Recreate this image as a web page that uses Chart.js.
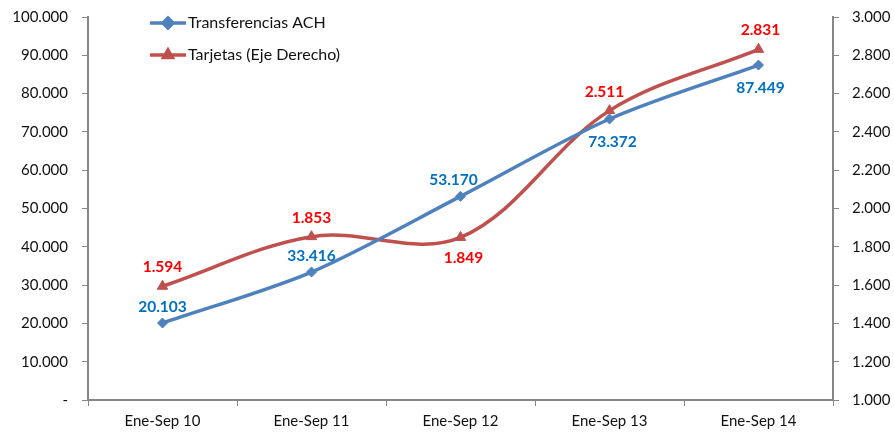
<!DOCTYPE html>
<html>
<head>
<meta charset="utf-8">
<script src="https://cdn.jsdelivr.net/npm/chart.js@4"></script>
<style>
  html, body { margin: 0; padding: 0; background: #fff; }
  #wrap { width: 894px; height: 432px; }
</style>
</head>
<body>
<div id="wrap"><canvas id="chart" width="894" height="432"></canvas></div>
<script>
// Datos
const categorias = ['Ene-Sep 10', 'Ene-Sep 11', 'Ene-Sep 12', 'Ene-Sep 13', 'Ene-Sep 14'];
const transferenciasACH = [20103, 33416, 53170, 73372, 87449];
const tarjetas = [1594, 1853, 1849, 2511, 2831];

// Posición de etiquetas (arriba / abajo del punto) y desplazamiento horizontal
const achLabelPos = ['top', 'top', 'top', 'bottom', 'bottom'];
const achLabelDx = [0, 0, -7, 3, 2];
const tarjetasLabelPos = ['top', 'top', 'bottom', 'top', 'top'];
const tarjetasLabelDx = [0, 0, 3, -5, 2];

const FONT = "Lato, 'Open Sans', sans-serif";
Chart.defaults.font.family = FONT;
Chart.defaults.font.size = 15;
Chart.defaults.color = '#111';

function fmt(v) {
    if (v === 0) return '-';
    return new Intl.NumberFormat('de-DE', { minimumFractionDigits: 0 }).format(v);
}

// Etiquetas de datos
const dataLabels = {
    id: 'dataLabels',
    afterDatasetsDraw(chart) {
        const ctx = chart.ctx;
        ctx.save();
        ctx.font = 'bold 15.5px ' + FONT;
        ctx.textAlign = 'center';
        ctx.textBaseline = 'middle';
        chart.data.datasets.forEach((ds, i) => {
            const meta = chart.getDatasetMeta(i);
            meta.data.forEach((pt, j) => {
                const dy = ds.labelPos[j] === 'top' ? -ds.labelTop : ds.labelBottom;
                ctx.fillStyle = ds.labelColor;
                ctx.fillText(fmt(ds.data[j]), pt.x + ds.labelDx[j], pt.y + dy);
            });
        });
        ctx.restore();
    }
};

// Leyenda dentro del área
const insideLegend = {
    id: 'insideLegend',
    afterDraw(chart) {
        const ctx = chart.ctx;
        ctx.save();
        ctx.font = '16px ' + FONT;
        ctx.textBaseline = 'middle';
        ctx.textAlign = 'left';
        chart.data.datasets.forEach((ds, i) => {
            const y = 23 + i * 32;
            const x0 = 150, x1 = 186;
            ctx.strokeStyle = ds.borderColor;
            ctx.lineWidth = 3.5;
            ctx.beginPath();
            ctx.moveTo(x0, y);
            ctx.lineTo(x1, y);
            ctx.stroke();
            ctx.fillStyle = ds.borderColor;
            ctx.strokeStyle = ds.borderColor;
            Chart.helpers.drawPoint(ctx, {
                pointStyle: ds.pointStyle, radius: 5, rotation: 0, borderWidth: 1
            }, (x0 + x1) / 2, y);
            ctx.fillStyle = '#111';
            ctx.fillText(ds.label, x1 + 2, y);
        });
        ctx.restore();
    }
};

const axisColor = '#868686';

// ancho fijo del eje y sin relleno extra arriba/abajo
function fixAxis(width) {
    return s => {
        s.width = width;
        s.paddingTop = 0;
        s.paddingBottom = 0;
    };
}

new Chart(document.getElementById('chart'), {
    type: 'line',
    data: {
        labels: categorias,
        datasets: [
            {
                label: 'Transferencias ACH',
                data: transferenciasACH,
                yAxisID: 'y',
                borderColor: '#4F81BD',
                backgroundColor: '#4F81BD',
                borderWidth: 3.5,
                pointStyle: 'rectRot',
                pointRadius: 5,
                pointBorderWidth: 1,
                tension: 0.3,
                labelPos: achLabelPos,
                labelDx: achLabelDx,
                labelColor: '#0070C0',
                labelTop: 16,
                labelBottom: 23
            },
            {
                label: 'Tarjetas (Eje Derecho)',
                data: tarjetas,
                yAxisID: 'y1',
                borderColor: '#C0504D',
                backgroundColor: '#C0504D',
                borderWidth: 3.5,
                pointStyle: 'triangle',
                pointRadius: 6,
                pointBorderWidth: 1,
                tension: 0.35,
                labelPos: tarjetasLabelPos,
                labelDx: tarjetasLabelDx,
                labelColor: '#FF0000',
                labelTop: 19,
                labelBottom: 21
            }
        ]
    },
    options: {
        responsive: false,
        animation: false,
        layout: { padding: { top: 17, right: 0, left: 0, bottom: 0 } },
        plugins: {
            legend: { display: false },
            tooltip: { enabled: false }
        },
        scales: {
            x: {
                offset: true,
                grid: {
                    offset: true,
                    drawOnChartArea: false,
                    drawTicks: true,
                    tickLength: 6,
                    color: axisColor
                },
                border: { color: axisColor, width: 2 },
                ticks: { padding: 6, maxRotation: 0, color: '#111' },
                afterFit(s) { s.height = 32; }
            },
            y: {
                position: 'left',
                min: 0,
                max: 100000,
                grid: { drawOnChartArea: false, tickLength: 6, color: axisColor },
                border: { color: axisColor, width: 2 },
                ticks: { stepSize: 10000, padding: 14, callback: v => fmt(v) },
                afterFit: fixAxis(88)
            },
            y1: {
                position: 'right',
                min: 1000,
                max: 3000,
                grid: { drawOnChartArea: false, tickLength: 6, color: axisColor },
                border: { color: axisColor, width: 2 },
                ticks: { stepSize: 200, padding: 13, callback: v => fmt(v) },
                afterFit: fixAxis(61)
            }
        }
    },
    plugins: [dataLabels, insideLegend]
});
</script>
</body>
</html>
